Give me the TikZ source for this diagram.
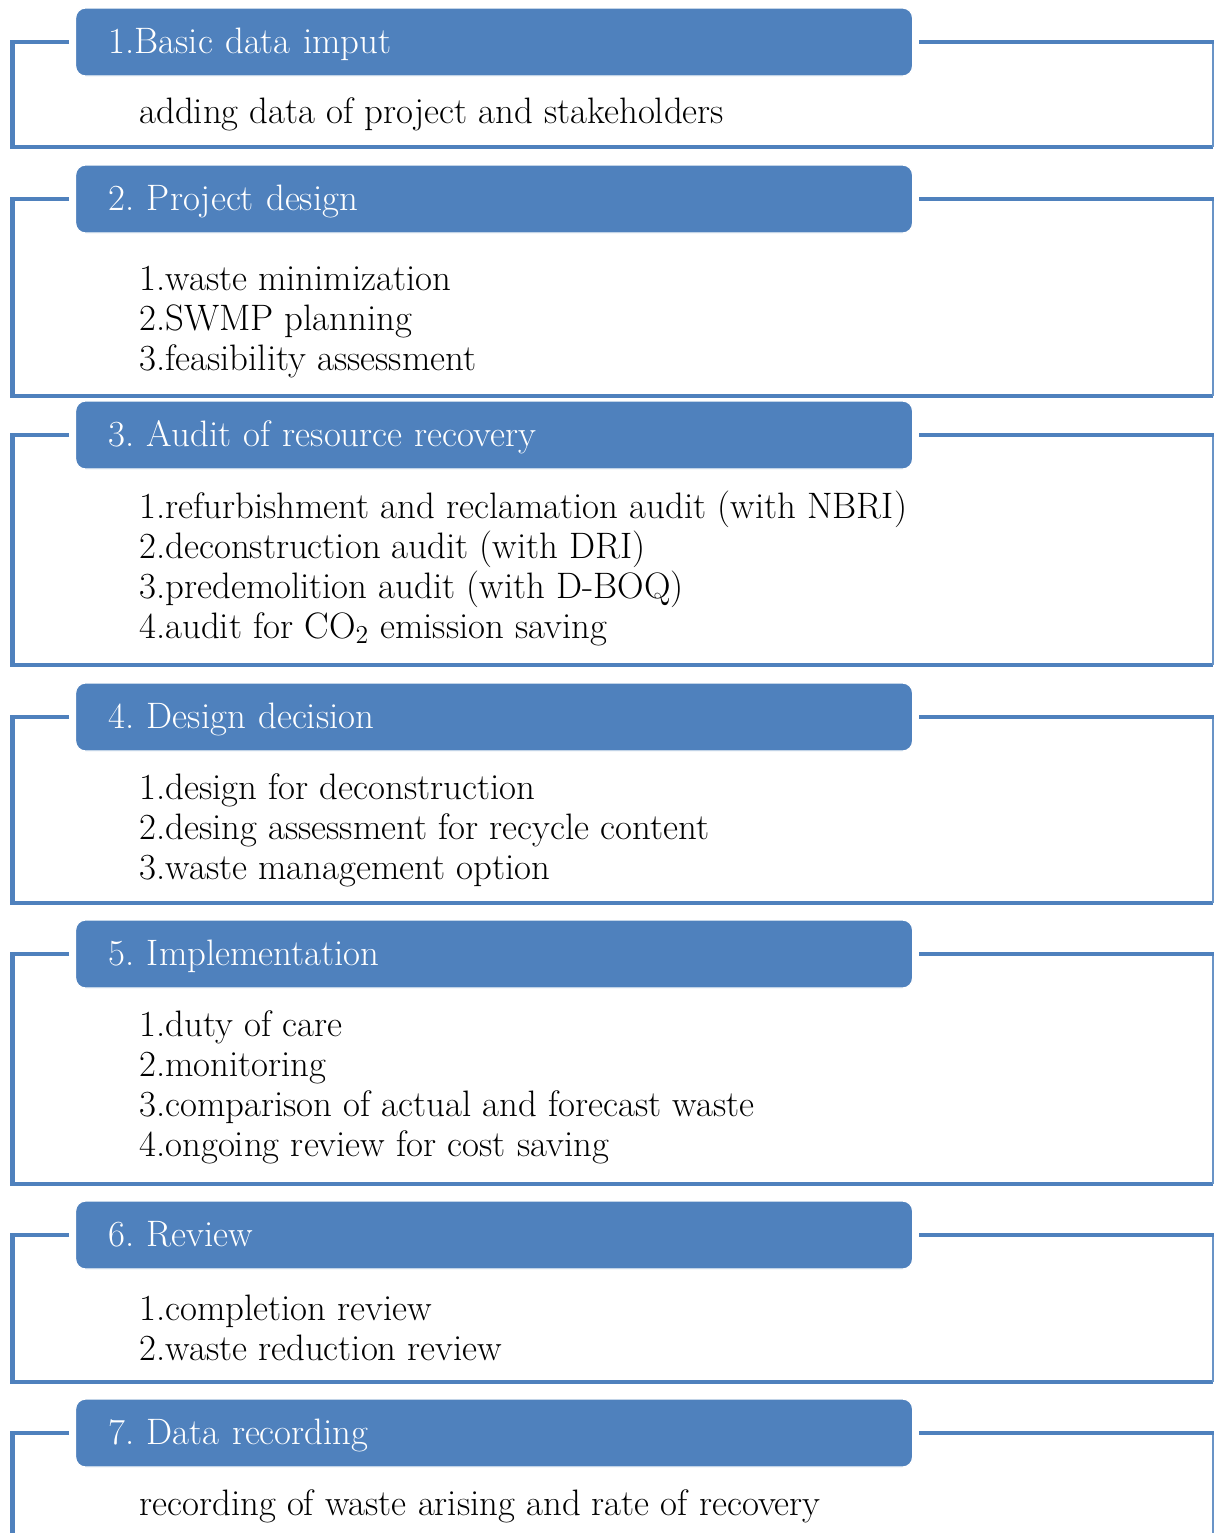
\documentclass[tikz,border=0pt]{standalone}
\usepackage{xcolor}
\definecolor{stepblue}{HTML}{4F81BD}
\frenchspacing

\tikzset{
  header/.style={fill=stepblue, draw=white, line width=0.6pt, rounded corners=5pt,
    anchor=west, minimum height=34pt, inner xsep=16.5pt, text width=385.5pt,
    text height=15pt, text depth=3.9pt,
    align=left, text=white, font=\fontsize{18.4}{20}\selectfont},
  body/.style={anchor=west, align=left, inner sep=0pt, text=black,
    font=\fontsize{18.4}{20}\selectfont},
  framethick/.style={draw=stepblue, line width=2.3pt},
  framethin/.style={draw=stepblue!85, line width=0.6pt},
}

% frame around one step: thick left, bottom and top stubs, thin right edge
\newcommand{\stepframe}[2]{%
  \draw[framethick] ([xshift=-3pt]#1.west) -- (#1.west -| L) -- (L |- #2) -- (R |- #2);
  \draw[framethin] (R |- #2) -- (#1.east -| R);
  \draw[framethick] ([xshift=3pt]#1.east) -- (#1.east -| RR);
}

\begin{document}
\begin{tikzpicture}[x=0.5pt,y=-0.5pt]
\useasboundingbox (0,0) rectangle (1214,1533);
\clip (0,0) rectangle (1214,1533);

\coordinate (L) at (12.5,0);
\coordinate (R) at (1213,0);
\coordinate (RR) at (1214,0);

% bottom edges of the frames
\coordinate (f1) at (0,147);
\coordinate (f2) at (0,396);
\coordinate (f3) at (0,665);
\coordinate (f4) at (0,903);
\coordinate (f5) at (0,1184);
\coordinate (f6) at (0,1382);
\coordinate (f7) at (0,1560);

% headers (positioned first so the frames can refer to them)
\path (75,42)   node[header] (h1) {1.Basic data imput};
\path (75,199)  node[header] (h2) {2. Project design};
\path (75,435)  node[header] (h3) {3. Audit of resource recovery};
\path (75,717)  node[header] (h4) {4. Design decision};
\path (75,954)  node[header] (h5) {5. Implementation};
\path (75,1235) node[header] (h6) {6. Review};
\path (75,1433) node[header] (h7) {7. Data recording};

\stepframe{h1}{f1}
\stepframe{h2}{f2}
\stepframe{h3}{f3}
\stepframe{h4}{f4}
\stepframe{h5}{f5}
\stepframe{h6}{f6}
\stepframe{h7}{f7}

% redraw headers on top of the frame lines
\path (75,42)   node[header] {1.Basic data imput};
\path (75,199)  node[header] {2. Project design};
\path (75,435)  node[header] {3. Audit of resource recovery};
\path (75,717)  node[header] {4. Design decision};
\path (75,954)  node[header] {5. Implementation};
\path (75,1235) node[header] {6. Review};
\path (75,1433) node[header] {7. Data recording};

% contents
\node[body] (b1) at (139,114) {adding data of project and stakeholders};
\node[body] (b2) at (139,322) {1.waste minimization\\2.SWMP planning\\3.feasibility assessment};
\node[body] (b3) at (139,568) {1.refurbishment and reclamation audit (with NBRI)\\2.deconstruction audit (with DRI)\\3.predemolition audit (with D-BOQ)\\4.audit for CO\textsubscript{2} emission saving};
\node[body] (b4) at (139,830) {1.design for deconstruction\\2.desing assessment for recycle content\\3.waste management option};
\node[body] (b5) at (139,1087.5) {1.duty of care\\2.monitoring\\3.comparison of actual and forecast waste\\4.ongoing review for cost saving};
\node[body] (b6) at (139,1328) {1.completion review\\2.waste reduction review};
\node[body] (b7) at (139,1506) {recording of waste arising and rate of recovery};
\end{tikzpicture}
\end{document}
